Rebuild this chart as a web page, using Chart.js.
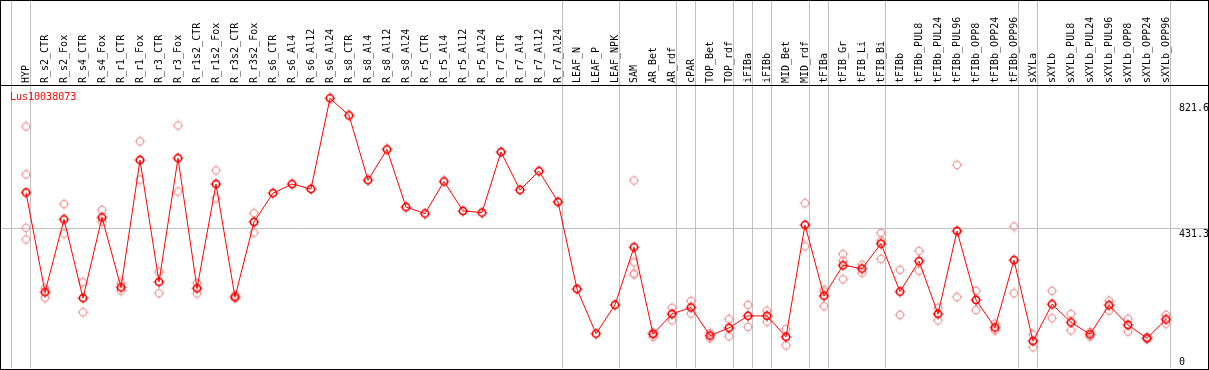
<!DOCTYPE html>
<html>
<head>
<meta charset="utf-8">
<script src="https://cdn.jsdelivr.net/npm/chart.js@4/dist/chart.umd.min.js"></script>
<style>
  html, body { margin: 0; padding: 0; background: #fff; }
  #frame { width: 1209px; height: 370px; border: 1px solid #000; box-sizing: border-box; }
  canvas { display: block; }
</style>
</head>
<body>
<div id="frame"><canvas id="chart" width="1207" height="368"></canvas></div>
<script>
(function () {
  'use strict';

  var geneName = 'Lus10038073';

  var categories = [
    'HYP', 'R_s2_CTR', 'R_s2_Fox', 'R_s4_CTR', 'R_s4_Fox', 'R_r1_CTR', 'R_r1_Fox', 'R_r3_CTR', 'R_r3_Fox',
    'R_r1s2_CTR', 'R_r1s2_Fox', 'R_r3s2_CTR', 'R_r3s2_Fox', 'R_s6_CTR', 'R_s6_Al4', 'R_s6_Al12', 'R_s6_Al24',
    'R_s8_CTR', 'R_s8_Al4', 'R_s8_Al12', 'R_s8_Al24', 'R_r5_CTR', 'R_r5_Al4', 'R_r5_Al12', 'R_r5_Al24',
    'R_r7_CTR', 'R_r7_Al4', 'R_r7_Al12', 'R_r7_Al24', 'LEAF_N', 'LEAF_P', 'LEAF_NPK', 'SAM', 'AR_Bet', 'AR_rdf',
    'cPAR', 'TOP_Bet', 'TOP_rdf', 'iFIBa', 'iFIBb', 'MID_Bet', 'MID_rdf', 'tFIBa', 'tFIB_Gr', 'tFIB_Li', 'tFIB_Bi',
    'tFIBb', 'tFIBb_PUL8', 'tFIBb_PUL24', 'tFIBb_PUL96', 'tFIBb_OPP8', 'tFIBb_OPP24', 'tFIBb_OPP96',
    'sXYLa', 'sXYLb', 'sXYLb_PUL8', 'sXYLb_PUL24', 'sXYLb_PUL96', 'sXYLb_OPP8', 'sXYLb_OPP24', 'sXYLb_OPP96'
  ];

  // mean expression per sample
  var means = [
    542, 234, 459, 216, 465, 249, 642, 266, 648,
    246, 568, 219, 451, 540, 568, 553, 833,
    780, 580, 675, 497, 477, 576, 485, 480,
    667, 550, 608, 513, 244, 106, 195, 373, 105, 167,
    187, 100, 124, 161, 161, 96, 442, 223, 317, 307, 384,
    236, 330, 167, 423, 210, 125, 333,
    83, 197, 141, 104, 194, 133, 92, 150
  ];

  // individual replicates per sample
  var replicates = [
    [746, 598, 433, 397], [246, 217], [506, 415], [265, 172], [488, 452], [261, 239], [700, 582], [297, 231], [749, 545],
    [262, 230], [610, 524], [225, 215], [478, 418], [], [], [], [],
    [], [], [], [], [], [], [], [],
    [], [], [], [], [], [], [], [579, 326, 292, 289], [110, 96], [186, 147],
    [207, 168], [108, 92], [151, 98], [195, 127], [177, 143], [120, 70], [509, 376], [242, 236, 191], [352, 331, 274], [319, 294], [417, 393, 337],
    [303, 164], [361, 300], [186, 147], [627, 219], [238, 179], [137, 116], [437, 231],
    [104, 64], [238, 154], [167, 116], [111, 97], [208, 177], [152, 112], [95, 89], [164, 137]
  ];

  // last sample index of each group (-1 = left edge)
  var groupEnds = [-1, 0, 28, 31, 34, 35, 37, 38, 39, 41, 42, 45, 52, 53, 60];

  var yTicks = [0, 431.3, 821.6];
  var yTickLabels = ['0', '431.3', '821.6'];

  var font = { family: "'DejaVu Sans Mono', monospace", size: 10 };
  var sepShift = 0.237;

  // small circle with four ticks, like the original plot markers
  function marker(color, lw) {
    var c = document.createElement('canvas');
    c.width = 12; c.height = 12;
    var g = c.getContext('2d');
    g.strokeStyle = color;
    g.lineWidth = lw;
    g.beginPath(); g.arc(6, 6, 3.6, 0, Math.PI * 2); g.stroke();
    g.lineWidth = 1;
    g.beginPath();
    g.moveTo(6, 0.5); g.lineTo(6, 2); g.moveTo(6, 10); g.lineTo(6, 11.5);
    g.moveTo(0.5, 6); g.lineTo(2, 6); g.moveTo(10, 6); g.lineTo(11.5, 6);
    g.stroke();
    return c;
  }

  var meanPts = means.map(function (m, i) { return { x: i, y: m }; });
  var repPts = [];
  replicates.forEach(function (r, i) { r.forEach(function (v) { repPts.push({ x: i, y: v }); }); });

  var sepValues = groupEnds.map(function (g) { return g + sepShift; });

  // gene name in the top-left corner of the plot
  var geneTitle = {
    id: 'geneTitle',
    afterDraw: function (chart) {
      var c = chart.ctx, a = chart.chartArea;
      c.save();
      c.font = "10px 'DejaVu Sans Mono', monospace";
      c.fillStyle = '#ff0000';
      c.textBaseline = 'middle';
      c.fillText(geneName, a.left + 9, a.top + 12.5);
      c.restore();
    }
  };

  new Chart(document.getElementById('chart'), {
    type: 'line',
    data: {
      datasets: [
        { label: geneName, data: meanPts, borderColor: '#ff0000', borderWidth: 1, pointStyle: marker('#ff0000', 1.6), pointRadius: 5, tension: 0, order: 0 },
        { type: 'scatter', label: 'replicates', data: repPts, pointStyle: marker('#f09a9a', 1.1), pointRadius: 5, showLine: false, order: 1 }
      ]
    },
    options: {
      responsive: false,
      animation: false,
      events: [],
      devicePixelRatio: 1,
      layout: { autoPadding: false, padding: { left: 0, right: 0, top: 0, bottom: 1 } },
      plugins: {
        tooltip: { enabled: false },
        legend: { display: false }
      },
      scales: {
        x: {
          type: 'linear', position: 'top', min: -25 / 19, max: 1182 / 19,
          afterBuildTicks: function (s) {
            var t = categories.map(function (c, i) { return i; }).concat(sepValues);
            t.sort(function (a, b) { return a - b; });
            s.ticks = t.map(function (v) { return { value: v }; });
          },
          afterFit: function (s) { s.height = 84; s.paddingLeft = 0; s.paddingRight = 0; },
          ticks: {
            autoSkip: false, minRotation: 90, maxRotation: 90, padding: -82, labelOffset: 12, font: font, color: '#000',
            callback: function (v) { return Number.isInteger(v) ? categories[v] : ''; }
          },
          grid: {
            drawTicks: true, tickLength: 84, lineWidth: 1,
            color: function (ctx) { return ctx.tick && !Number.isInteger(ctx.tick.value) ? '#c0c0c0' : 'rgba(0,0,0,0)'; },
            tickColor: function (ctx) { return ctx.tick && !Number.isInteger(ctx.tick.value) ? '#c0c0c0' : 'rgba(0,0,0,0)'; }
          },
          border: { display: true, color: '#000', width: 1 }
        },
        y: {
          type: 'linear', position: 'right', min: 0, max: 874,
          afterBuildTicks: function (s) { s.ticks = yTicks.map(function (v) { return { value: v }; }); },
          afterFit: function (s) { s.width = 0; s.paddingTop = 0; s.paddingBottom = 0; },
          ticks: {
            mirror: true, crossAlign: 'far', padding: 1, font: font, color: '#000',
            callback: function (v, i) { return i === 0 ? [yTickLabels[i], ''] : ['', yTickLabels[i]]; }
          },
          grid: {
            drawTicks: false,
            color: function (ctx) { return ctx.index === 1 ? '#c0c0c0' : 'rgba(0,0,0,0)'; }
          },
          border: { display: false }
        }
      }
    },
    plugins: [geneTitle]
  });
})();
</script>
</body>
</html>
